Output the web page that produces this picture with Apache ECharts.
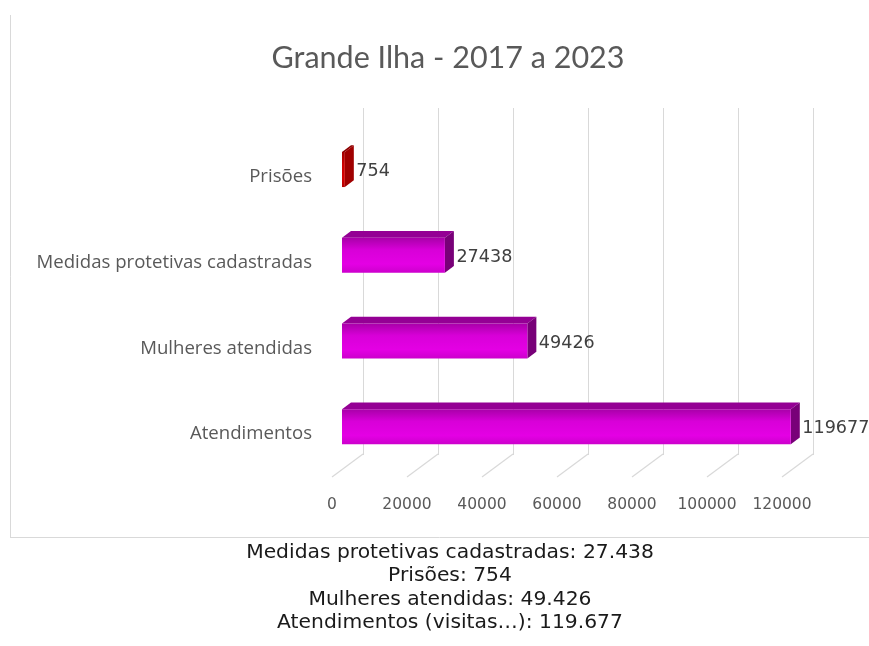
<!DOCTYPE html>
<html>
<head>
<meta charset="utf-8">
<script src="https://cdn.jsdelivr.net/npm/echarts@6/dist/echarts.min.js"></script>
<style>
  html, body { margin: 0; padding: 0; background: #ffffff; }
  #chart { width: 869px; height: 646px; }
</style>
</head>
<body>
<div id="chart"></div>
<script>
// ---- data ----
const categories = ['Atendimentos', 'Mulheres atendidas', 'Medidas protetivas cadastradas', 'Prisões'];
const values = [119677, 49426, 27438, 754];
const tickValues = [0, 20000, 40000, 60000, 80000, 100000, 120000];
const titleText = 'Grande Ilha - 2017 a 2023';
const noteLabels = ['Medidas protetivas cadastradas', 'Prisões', 'Mulheres atendidas', 'Atendimentos (visitas…)'];
const noteValues = [27438, 754, 49426, 119677];

function fmtBR(n) {
  return String(n).replace(/\B(?=(\d{3})+(?!\d))/g, '.');
}
const noteText = noteLabels.map((l, i) => l + ': ' + fmtBR(noteValues[i])).join('\n');

// depth geometry (pixels)
const WALL_DX = 31, WALL_DY = -23;   // front plane -> back wall
const BAR_OFF_DX = 10, BAR_OFF_DY = -7.4; // front plane -> bar front face
const BAR_DX = 9, BAR_DY = -6.7;     // bar depth

const chart = echarts.init(document.getElementById('chart'), null, { renderer: 'canvas' });

const magenta = { front: ['#a800a8', '#d800d8', '#e400e4', '#cc00cc'], top: '#940094', side: '#780078' };
const red = { front: ['#a00000', '#cc0000', '#d40000', '#b40000'], top: '#8a0000', side: '#a00000' };
const barColors = [magenta, magenta, magenta, red];

const option = {
  backgroundColor: '#ffffff',
  animation: false,
  title: [
    {
      text: titleText,
      left: 443,
      top: 38,
      textAlign: 'center',
      textStyle: { fontFamily: 'Lato', fontSize: 30.5, fontWeight: 'normal', color: '#595959' }
    },
    {
      text: noteText,
      left: 445,
      top: 536,
      textAlign: 'center',
      textStyle: { fontFamily: 'DejaVu Sans', fontSize: 20.3, fontWeight: 'normal', color: '#1a1a1a', lineHeight: 23.4 }
    }
  ],
  grid: [
    { left: 332, width: 450, top: 134, height: 343 },   // front plane
    { left: 363, width: 450, top: 108, height: 347 }    // back wall
  ],
  xAxis: [
    {
      gridIndex: 0, type: 'value', min: 0, max: 120000, interval: 20000,
      axisLine: { show: false }, axisTick: { show: false }, splitLine: { show: false },
      axisLabel: { margin: 20, color: '#595959', fontFamily: 'DejaVu Sans', fontSize: 15.5,
        formatter: function (v) { return String(v); } }
    },
    {
      gridIndex: 1, type: 'value', min: 0, max: 120000, interval: 20000,
      axisLine: { show: false }, axisTick: { show: false }, axisLabel: { show: false },
      splitLine: { show: true, lineStyle: { color: '#d9d9d9', width: 1 } }
    }
  ],
  yAxis: [
    {
      gridIndex: 0, type: 'category', data: categories,
      axisLine: { show: false }, axisTick: { show: false }, splitLine: { show: false },
      axisLabel: { margin: 20, color: '#595959', fontFamily: 'Open Sans', fontSize: 18.6, padding: [5, 0, 0, 0] }
    },
    {
      gridIndex: 1, type: 'category', data: categories, show: false
    }
  ],
  graphic: [
    { type: 'line', shape: { x1: 10.5, y1: 15, x2: 10.5, y2: 537.5 }, style: { stroke: '#d9d9d9', lineWidth: 1 } },
    { type: 'line', shape: { x1: 10, y1: 537.5, x2: 869, y2: 537.5 }, style: { stroke: '#d9d9d9', lineWidth: 1 } }
  ],
  series: [
    {
      // floor gridlines (diagonals from back wall to front edge)
      type: 'custom',
      xAxisIndex: 0, yAxisIndex: 0,
      silent: true,
      data: tickValues.map(v => [v]),
      renderItem: function (params, api) {
        const cs = params.coordSys;
        const fx = api.coord([api.value(0), 0])[0];
        const fy = cs.y + cs.height;
        return {
          type: 'line',
          shape: { x1: fx + WALL_DX, y1: fy + WALL_DY, x2: fx, y2: fy },
          style: { stroke: '#d9d9d9', lineWidth: 1.2 }
        };
      },
      z: 1
    },
    {
      type: 'custom',
      xAxisIndex: 0, yAxisIndex: 0,
      data: values.map((v, i) => [v, i]),
      renderItem: function (params, api) {
        const v = api.value(0), ci = api.value(1);
        const p1 = api.coord([v, ci]);
        const p0 = api.coord([0, ci]);
        const band = api.size([0, 1])[1];
        const h = band * 0.41;
        const x0 = p0[0] + BAR_OFF_DX;
        const x1 = p1[0] + BAR_OFF_DX;
        const cy = p1[1] + BAR_OFF_DY;
        const yT = cy - h / 2, yB = cy + h / 2;
        const c = barColors[ci];
        return {
          type: 'group',
          children: [
            {
              type: 'polygon',
              shape: { points: [[x0, yT], [x1, yT], [x1 + BAR_DX, yT + BAR_DY], [x0 + BAR_DX, yT + BAR_DY]] },
              style: { fill: c.top }
            },
            {
              type: 'polygon',
              shape: { points: [[x1, yT], [x1 + BAR_DX, yT + BAR_DY], [x1 + BAR_DX, yB + BAR_DY], [x1, yB]] },
              style: { fill: c.side }
            },
            {
              type: 'rect',
              shape: { x: x0, y: yT, width: Math.max(x1 - x0, 0.5), height: h },
              style: {
                fill: new echarts.graphic.LinearGradient(0, 0, 0, 1, [
                  { offset: 0, color: c.front[0] },
                  { offset: 0.35, color: c.front[1] },
                  { offset: 0.75, color: c.front[2] },
                  { offset: 1, color: c.front[3] }
                ])
              }
            },
            {
              type: 'text',
              style: {
                text: String(v),
                x: x1 + BAR_DX + 2.5,
                y: cy + 2,
                textAlign: 'left',
                textVerticalAlign: 'middle',
                fill: '#404040',
                font: '17.6px "DejaVu Sans"'
              }
            }
          ]
        };
      },
      z: 3
    }
  ]
};

chart.setOption(option);
</script>
</body>
</html>
